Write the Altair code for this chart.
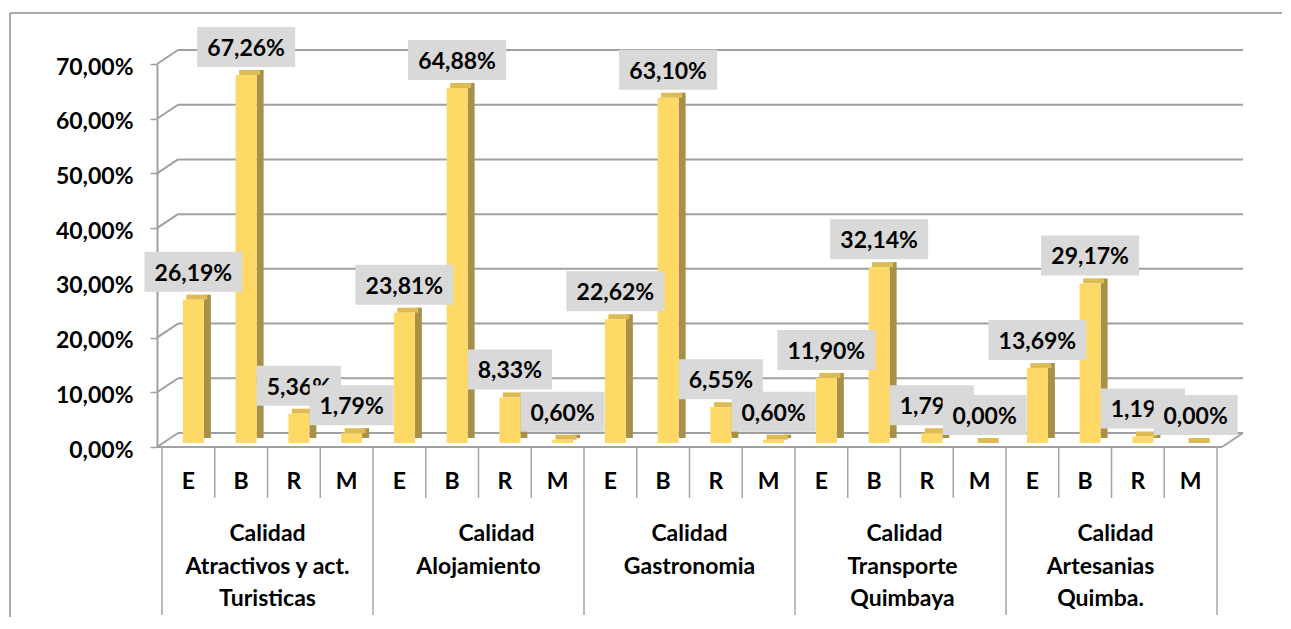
import altair as alt
import pandas as pd

# ---------------- data ----------------
group_first = ["Calidad", "Calidad", "Calidad", "Calidad", "Calidad"]
group_rest = [
    "Atractivos y act.\nTuristicas",
    "Alojamiento",
    "Gastronomia",
    "Transporte\nQuimbaya",
    "Artesanias\nQuimba.",
]
ratings = ["E", "B", "R", "M"]
atractivos = [26.19, 67.26, 5.36, 1.79]
alojamiento = [23.81, 64.88, 8.33, 0.60]
gastronomia = [22.62, 63.10, 6.55, 0.60]
transporte = [11.90, 32.14, 1.79, 0.00]
artesanias = [13.69, 29.17, 1.19, 0.00]
y_ticks = [0, 10, 20, 30, 40, 50, 60, 70]

series = [atractivos, alojamiento, gastronomia, transporte, artesanias]
rows = []
for g, vals in enumerate(series):
    for r, v in enumerate(vals):
        i = g * len(ratings) + r
        rows.append({
            "idx": i,
            "pos": i + 0.5,
            "rating": ratings[r],
            "value": v,
            "label": f"{v:.2f}".replace(".", ",") + "%",
        })
df = pd.DataFrame(rows)
n_cat = len(df)
groups_df = pd.DataFrame({
    "g": list(range(len(group_first))),
    "pos": [len(ratings) * g + len(ratings) / 2 for g in range(len(group_first))],
    "first": group_first,
    "rest": group_rest,
})
ticks_df = pd.DataFrame({"t": y_ticks})
minor_df = pd.DataFrame({"b": [i for i in range(n_cat + 1) if i % len(ratings) != 0]})
major_df = pd.DataFrame({"b": [i for i in range(0, n_cat + 1, len(ratings))]})
one_df = pd.DataFrame({"k": [0]})

# ---------------- geometry / style ----------------
W, H = 1065, 383
DX, DY = 21, -14          # depth offset of back wall
BX, BY = 5, -4            # bar front face offset
FONT = "Lato"
FS = 23
GRID = "#a0a0a0"
FRONT = "#FFD966"
TOP = "#DDBB55"
SIDE = "#A89048"
LBL_BG = "#D9D9D9"
first_dx = [0, 18, 0, 4, 4]     # small horizontal nudges of group label lines
rest_dx = [0, 0, 0, 2, -11]

xs = alt.Scale(domain=[0, n_cat])
ys = alt.Scale(domain=[0, 70])
label_expr = "replace(format(datum.value, '.2f'), '.', ',') + '%'"
yaxis = alt.Axis(
    values=y_ticks, labelExpr=label_expr, labelFont=FONT, labelFontSize=FS,
    labelFontWeight="bold", labelColor="black", labelPadding=17, labelOffset=3,
    tickSize=7, tickColor=GRID, tickWidth=1.5, domainColor=GRID, domainWidth=2,
    grid=False, title=None,
)

def X(field):
    return alt.X(field, scale=xs, axis=None)

def Y(field):
    return alt.Y(field, scale=ys, axis=yaxis)

layers = []

# outer frame
layers.append(alt.Chart(one_df).mark_rule(color="#8c8c8c", strokeWidth=1.5).encode(
    x=alt.value(-147), y=alt.value(-51), y2=alt.value(H + 300)))
layers.append(alt.Chart(one_df).mark_rule(color="#8c8c8c", strokeWidth=1.5).encode(
    x=alt.value(-147), x2=alt.value(W + 300), y=alt.value(-51)))

# back wall gridlines
layers.append(alt.Chart(ticks_df).mark_rule(color=GRID, strokeWidth=2, yOffset=DY).encode(
    x=alt.value(DX), x2=alt.value(W + DX), y=Y("t:Q")))
# side-wall diagonals
layers.append(alt.Chart(ticks_df).mark_rule(color=GRID, strokeWidth=2, y2Offset=DY).encode(
    x=alt.value(0), x2=alt.value(DX), y=Y("t:Q"), y2="t:Q"))
# floor right diagonal and front edge
layers.append(alt.Chart(ticks_df).transform_filter("datum.t == 0").mark_rule(
    color=GRID, strokeWidth=2, y2Offset=DY).encode(
    x=alt.value(W), x2=alt.value(W + DX), y=Y("t:Q"), y2="t:Q"))
layers.append(alt.Chart(ticks_df).transform_filter("datum.t == 0").mark_rule(
    color=GRID, strokeWidth=2).encode(
    x=alt.value(0), x2=alt.value(W), y=Y("t:Q")))

# category separators
layers.append(alt.Chart(minor_df).mark_rule(color="#a6a6a6", strokeWidth=1.5).encode(
    x=X("b:Q"), y=alt.value(H), y2=alt.value(H + 51)))
layers.append(alt.Chart(major_df).mark_rule(color="#a6a6a6", strokeWidth=1.5).encode(
    x=X("b:Q"), y=alt.value(H), y2=alt.value(H + 168)))

# 3D bars: side, top, front
base = alt.Chart(df)
layers.append(base.mark_bar(color=SIDE, width=7, xOffset=BX + 14,
                            yOffset=BY - 5, y2Offset=BY - 5).encode(
    x=X("pos:Q"), y=Y("value:Q"), y2=alt.datum(0)))
layers.append(base.mark_bar(color=TOP, width=21, xOffset=BX + 3.5,
                            yOffset=BY - 5, y2Offset=BY).encode(
    x=X("pos:Q"), y=Y("value:Q"), y2="value:Q"))
layers.append(base.mark_bar(color=FRONT, width=21, xOffset=BX,
                            yOffset=BY, y2Offset=BY).encode(
    x=X("pos:Q"), y=Y("value:Q"), y2=alt.datum(0)))

# data labels (box + text, drawn in order so later ones overlap earlier)
for i, lab in enumerate(df["label"]):
    bw = 98 if len(lab) >= 6 else 84
    sub = base.transform_filter(f"datum.idx == {i}")
    layers.append(sub.mark_bar(color=LBL_BG, width=bw, xOffset=BX,
                               yOffset=-52, y2Offset=-12).encode(
        x=X("pos:Q"), y=Y("value:Q"), y2="value:Q"))
    layers.append(sub.mark_text(font=FONT, fontSize=FS, fontWeight="bold", color="black",
                                align="center", baseline="alphabetic",
                                xOffset=BX, yOffset=-23).encode(
        x=X("pos:Q"), y=Y("value:Q"), text="label:N"))

# axis category labels
layers.append(base.mark_text(font=FONT, fontSize=FS, fontWeight="bold", color="black",
                             align="center", baseline="alphabetic").encode(
    x=X("pos:Q"), y=alt.value(H + 42), text="rating:N"))
for g in range(len(group_first)):
    gsub = alt.Chart(groups_df).transform_filter(f"datum.g == {g}")
    layers.append(gsub.mark_text(
        font=FONT, fontSize=FS, fontWeight="bold", color="black", align="center",
        baseline="alphabetic", dx=first_dx[g]).encode(
        x=X("pos:Q"), y=alt.value(H + 94), text="first:N"))
    layers.append(gsub.mark_text(
        font=FONT, fontSize=FS, fontWeight="bold", color="black", align="center",
        baseline="alphabetic", lineBreak="\n", lineHeight=32.5, dx=rest_dx[g]).encode(
        x=X("pos:Q"), y=alt.value(H + 126.5), text="rest:N"))

chart = alt.layer(*layers).properties(
    width=W, height=H,
    padding={"left": 149, "top": 56, "right": 60, "bottom": 170},
    autosize=alt.AutoSizeParams(type="none"),
).configure_view(stroke=None)

chart.save("out.html", embed_options={"renderer": "svg", "actions": False})
